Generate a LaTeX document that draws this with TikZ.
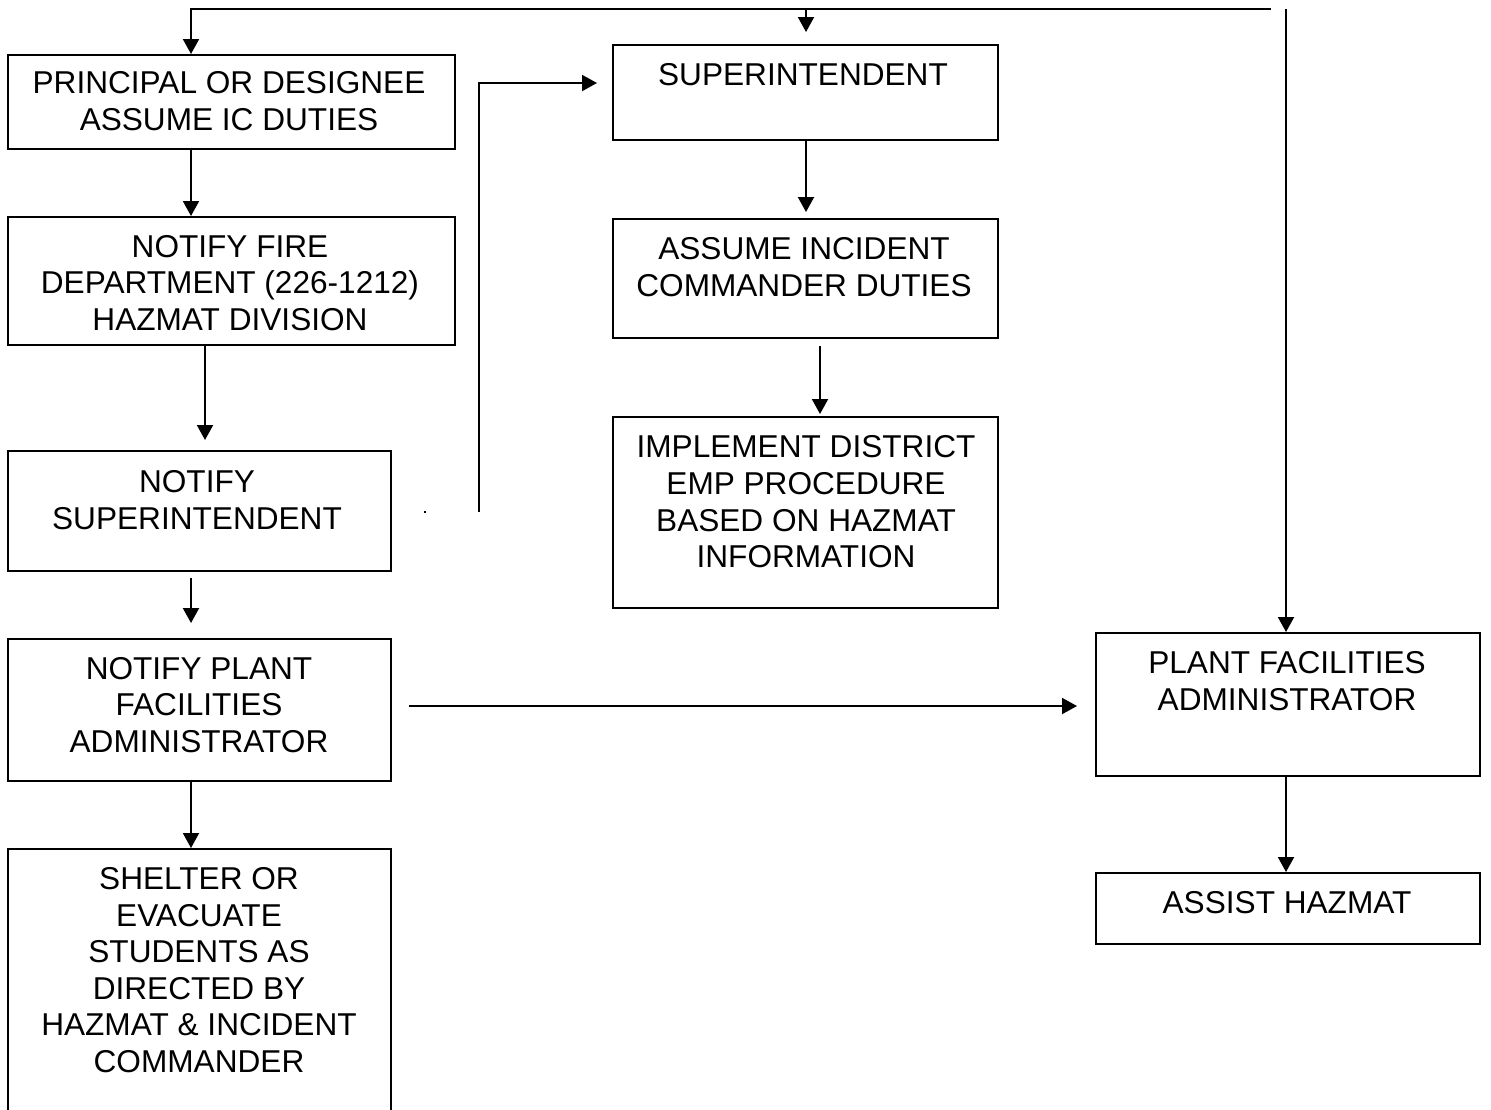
\documentclass[tikz,border=0pt]{standalone}
\usepackage{fontspec}
\setmainfont{Liberation Sans}
\usetikzlibrary{arrows.meta,fit}
\begin{document}
\begin{tikzpicture}[x=0.5pt,y=-0.5pt,
  box/.style={draw,line width=1pt,inner sep=0pt},
  txt/.style={align=center,inner sep=0pt,font=\fontsize{15.8}{18.3}\selectfont},
  arr/.style={line width=1pt,-{Triangle[length=7.5pt,width=8pt]}}]
\path[use as bounding box] (0,0) rectangle (1491,1109);
\clip (0,0) rectangle (1491,1109);

% boxes
\node[box,fit={(8,55) (455,149)}]    (b1) {};
\node[box,fit={(8,217) (455,345)}]   (b2) {};
\node[box,fit={(8,451) (391,571)}]   (b3) {};
\node[box,fit={(8,639) (391,781)}]   (b4) {};
\node[box,fit={(8,849) (391,1130)}]  (b5) {};
\node[box,fit={(613,45) (998,140)}]  (b6) {};
\node[box,fit={(613,219) (998,338)}] (b7) {};
\node[box,fit={(613,417) (998,608)}] (b8) {};
\node[box,fit={(1096,633) (1480,776)}] (b9) {};
\node[box,fit={(1096,873) (1480,944)}] (b10) {};

% labels
\node[txt] (t1) at (229,101) {PRINCIPAL OR DESIGNEE\\ASSUME IC DUTIES};
\node[txt] (t2) at (230,283) {NOTIFY FIRE\\DEPARTMENT (226-1212)\\HAZMAT DIVISION};
\node[txt] (t3) at (197,500) {NOTIFY\\SUPERINTENDENT};
\node[txt] (t4) at (199,705) {NOTIFY PLANT\\FACILITIES\\ADMINISTRATOR};
\node[txt] (t5) at (199,970) {SHELTER OR\\EVACUATE\\STUDENTS AS\\DIRECTED BY\\HAZMAT \& INCIDENT\\COMMANDER};
\node[txt] (t6) at (803,75) {SUPERINTENDENT};
\node[txt] (t7) at (804,267) {ASSUME INCIDENT\\COMMANDER DUTIES};
\node[txt] (t8) at (806,502) {IMPLEMENT DISTRICT\\EMP PROCEDURE\\BASED ON HAZMAT\\INFORMATION};
\node[txt] (t9) at (1287,681) {PLANT FACILITIES\\ADMINISTRATOR};
\node[txt] (t10) at (1287,903) {ASSIST HAZMAT};

% helper coordinates
\coordinate (topL) at (191,9);
\coordinate (topR) at (1271,9);
\coordinate (topM) at (806,9);
\coordinate (supTip) at (806,32);
\coordinate (rTop) at (1286,9);
\coordinate (xA) at (191,0);
\coordinate (xB) at (205,0);
\coordinate (xC) at (806,0);
\coordinate (xD) at (820,0);
\coordinate (xE) at (1286,0);
\coordinate (elb) at (479,512);
\coordinate (yE) at (0,83);
\coordinate (yF) at (0,706);

% connectors
\draw[arr] (topR) -- (topL) -- (topL |- b1.north);
\draw[arr] (topM) -- (supTip);
\draw[arr] (rTop) -- (rTop |- b9.north);
\draw[arr] (b1.south -| xA) -- (b2.north -| xA);
\draw[arr,shorten >=5pt] (b2.south -| xB) -- (b3.north -| xB);
\draw[arr,shorten <=3pt,shorten >=7.5pt] (b3.south -| xA) -- (b4.north -| xA);
\draw[arr] (b4.south -| xA) -- (b5.north -| xA);
\draw[arr,shorten >=7.5pt] (elb) |- (b6.west |- yE);
\draw[arr,shorten <=8.5pt,shorten >=9pt] (b4.east |- yF) -- (b9.west |- yF);
\draw[arr,shorten >=3pt] (b6.south -| xC) -- (b7.north -| xC);
\draw[arr,shorten <=3.5pt,shorten >=1pt] (b7.south -| xD) -- (b8.north -| xD);
\draw[arr] (b9.south -| xE) -- (b10.north -| xE);

% small mark left of the elbow
\fill (424,511) rectangle (426,513);
\end{tikzpicture}
\end{document}
